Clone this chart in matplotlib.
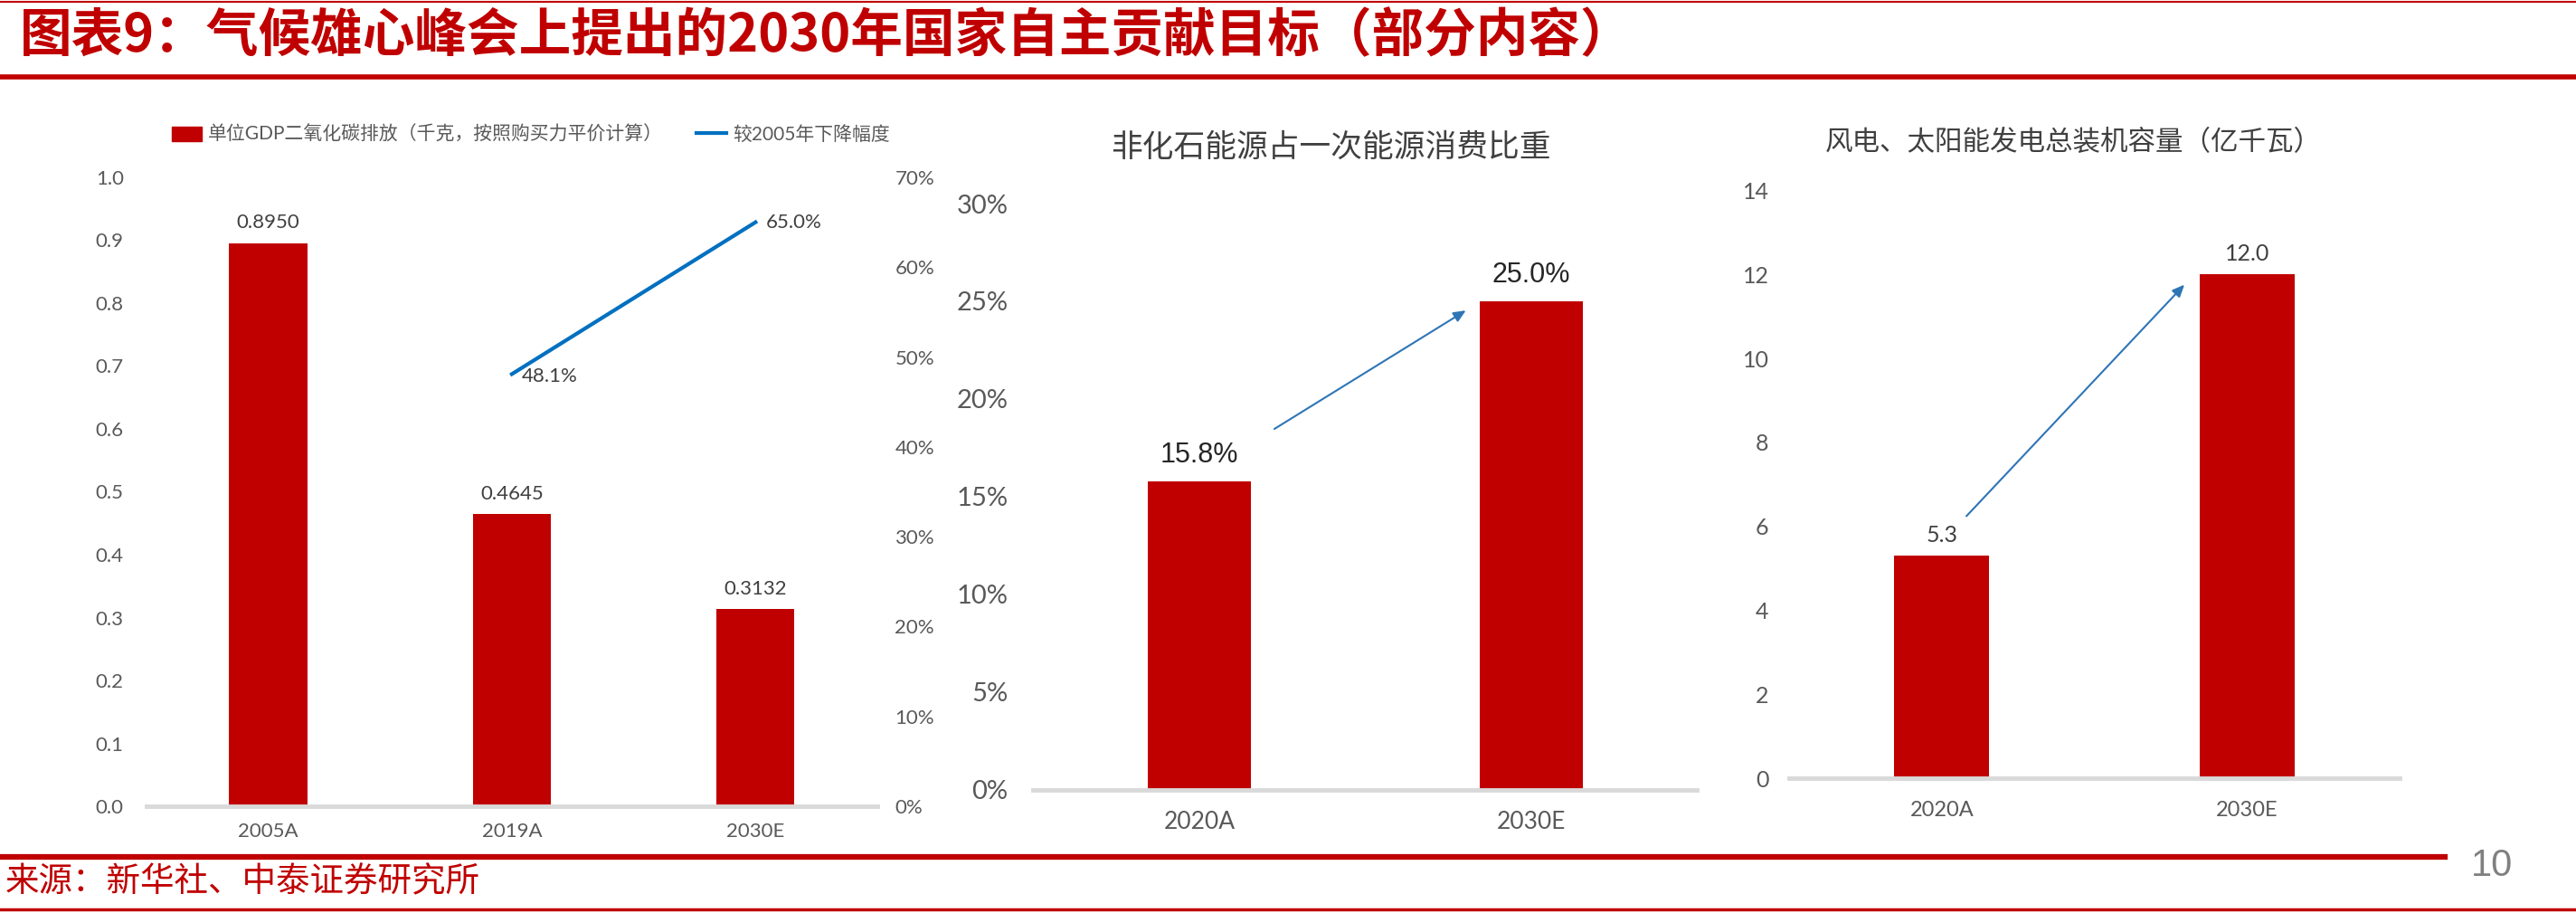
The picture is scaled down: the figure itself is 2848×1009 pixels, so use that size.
import matplotlib
matplotlib.use("Agg")
import matplotlib.pyplot as plt
import numpy as np
from matplotlib.lines import Line2D
from matplotlib.patches import Patch
from matplotlib.ticker import FuncFormatter

plt.rcParams['font.family'] = ['Lato', 'Noto Sans CJK SC', 'DejaVu Sans']

# ---------------- data ----------------
title = "图表9：气候雄心峰会上提出的2030年国家自主贡献目标（部分内容）"
source = "来源：新华社、中泰证券研究所"
page_no = "10"

c1_categories = ["2005A", "2019A", "2030E"]
c1_intensity = [0.8950, 0.4645, 0.3132]
c1_decline_cats = ["2019A", "2030E"]
c1_decline = [0.481, 0.650]
c1_bar_name = "单位GDP二氧化碳排放（千克，按照购买力平价计算）"
c1_line_name = "较2005年下降幅度"
c1_yticks = [0.0, 0.1, 0.2, 0.3, 0.4, 0.5, 0.6, 0.7, 0.8, 0.9, 1.0]
c1_y2ticks = [0.0, 0.1, 0.2, 0.3, 0.4, 0.5, 0.6, 0.7]

c2_title = "非化石能源占一次能源消费比重"
c2_categories = ["2020A", "2030E"]
c2_share = [0.158, 0.250]
c2_yticks = [0.0, 0.05, 0.10, 0.15, 0.20, 0.25, 0.30]

c3_title = "风电、太阳能发电总装机容量（亿千瓦）"
c3_categories = ["2020A", "2030E"]
c3_capacity = [5.3, 12.0]
c3_yticks = [0, 2, 4, 6, 8, 10, 12, 14]

# ---------------- style ----------------
RED = "#C00000"
BLUE = "#0070C0"
ARROW = "#2E75B6"
TICK = "#595959"
AXIS = "#D9D9D9"

fig = plt.figure(figsize=(28.48, 10.09), dpi=100)


def style_axes(ax, ylabelsize, xlabelsize, ypad, xpad):
    for s in ["top", "right", "left"]:
        ax.spines[s].set_visible(False)
    ax.spines["bottom"].set_color(AXIS)
    ax.spines["bottom"].set_linewidth(3.5)
    ax.tick_params(axis="both", length=0, colors=TICK)
    ax.tick_params(axis="y", labelsize=ylabelsize, pad=ypad)
    ax.tick_params(axis="x", labelsize=xlabelsize, pad=xpad)


# ---------------- chart 1 ----------------
ax1 = fig.add_axes([0.0568, 0.1169, 0.2838, 0.6889])
x1 = np.arange(len(c1_categories))
ax1.bar(x1, c1_intensity, width=0.32, color=RED, zorder=2)
ax1.set_xlim(-0.5, len(c1_categories) - 0.5)
ax1.set_ylim(0, 1.0)
ax1.set_yticks(c1_yticks)
ax1.yaxis.set_major_formatter(FuncFormatter(lambda v, p: f"{v:.1f}"))
ax1.set_xticks(x1)
ax1.set_xticklabels(c1_categories)
style_axes(ax1, 16, 16, 18, 13)
for xi, v in zip(x1, c1_intensity):
    ax1.annotate(f"{v:.4f}", (xi, v), xytext=(0, 9), textcoords="offset points",
                 ha="center", va="bottom", fontsize=16, color="#404040")

ax1b = ax1.twinx()
ax1b.set_ylim(0, 0.7)
ax1b.set_yticks(c1_y2ticks)
ax1b.yaxis.set_major_formatter(FuncFormatter(lambda v, p: f"{v*100:.0f}%"))
for s in ["top", "right", "left", "bottom"]:
    ax1b.spines[s].set_visible(False)
ax1b.tick_params(axis="y", length=0, colors=TICK, labelsize=16, pad=14)
xl = [c1_categories.index(c) for c in c1_decline_cats]
ax1b.plot(xl, c1_decline, color=BLUE, lw=3)
ax1b.annotate(f"{c1_decline[0]*100:.1f}%", (xl[0], c1_decline[0]), xytext=(8, -2),
              textcoords="offset points", ha="left", va="center", fontsize=16, color="#404040")
ax1b.annotate(f"{c1_decline[1]*100:.1f}%", (xl[1], c1_decline[1]), xytext=(8, 0),
              textcoords="offset points", ha="left", va="center", fontsize=16, color="#404040")

handles = [Patch(facecolor=RED, edgecolor=RED), Line2D([0], [0], color=BLUE, lw=3)]
fig.legend(handles, [c1_bar_name, c1_line_name], loc="center",
           bbox_to_anchor=(0.206, 0.8525), ncol=2, frameon=False, fontsize=15,
           handlelength=1.6, handleheight=0.8, handletextpad=0.3, columnspacing=1.8,
           labelcolor=TICK)

# ---------------- chart 2 ----------------
ax2 = fig.add_axes([0.4011, 0.1349, 0.2577, 0.6421])
x2 = np.arange(len(c2_categories))
ax2.bar(x2, c2_share, width=0.31, color=RED, zorder=2)
ax2.set_xlim(-0.5, len(c2_categories) - 0.5)
ax2.set_ylim(0, 0.30)
ax2.set_yticks(c2_yticks)
ax2.yaxis.set_major_formatter(FuncFormatter(lambda v, p: f"{v*100:.0f}%"))
ax2.set_xticks(x2)
ax2.set_xticklabels(c2_categories)
style_axes(ax2, 21, 19, 20, 17)
for xi, v in zip(x2, c2_share):
    ax2.annotate(f"{v*100:.1f}%", (xi, v), xytext=(0, 10), textcoords="offset points",
                 ha="center", va="bottom", fontsize=22, color="#262626",
                 family=["Liberation Sans", "DejaVu Sans"])
ax2.annotate("", xy=(x2[1] - 0.19, c2_share[1] - 0.004),
             xytext=(x2[0] + 0.22, c2_share[0] + 0.026),
             arrowprops=dict(arrowstyle="-|>,head_length=0.8,head_width=0.35",
                             color=ARROW, lw=1.5))
fig.text(0.5165, 0.838, c2_title, ha="center", va="center", fontsize=25,
         color="#404040", family=["Noto Sans CJK SC"])

# ---------------- chart 3 ----------------
ax3 = fig.add_axes([0.6945, 0.1475, 0.2372, 0.6439])
x3 = np.arange(len(c3_categories))
ax3.bar(x3, c3_capacity, width=0.31, color=RED, zorder=2)
ax3.set_xlim(-0.5, len(c3_categories) - 0.5)
ax3.set_ylim(0, 14)
ax3.set_yticks(c3_yticks)
ax3.set_xticks(x3)
ax3.set_xticklabels(c3_categories)
style_axes(ax3, 18, 17, 16, 18)
for xi, v in zip(x3, c3_capacity):
    ax3.annotate(f"{v:.1f}", (xi, v), xytext=(0, 8), textcoords="offset points",
                 ha="center", va="bottom", fontsize=18, color="#404040")
ax3.annotate("", xy=(x3[1] - 0.2, c3_capacity[1] - 0.2),
             xytext=(x3[0] + 0.075, c3_capacity[0] + 0.9),
             arrowprops=dict(arrowstyle="-|>,head_length=0.8,head_width=0.35",
                             color=ARROW, lw=1.5))
fig.text(0.805, 0.8435, c3_title, ha="center", va="center", fontsize=22,
         color="#404040", family=["Noto Sans CJK SC"])

# ---------------- page decorations ----------------
fig.add_artist(Line2D([0, 1], [0.998, 0.998], transform=fig.transFigure, color=RED, lw=1.5))
fig.text(0.0077, 0.960, title, ha="left", va="center", fontsize=41.5, color=RED,
         fontweight="bold", family=["Noto Sans CJK SC"])
fig.add_artist(Line2D([0, 1], [0.9155, 0.9155], transform=fig.transFigure, color=RED, lw=4))
fig.add_artist(Line2D([0, 0.949], [0.0612, 0.0612], transform=fig.transFigure, color=RED, lw=4.5))
fig.text(0.002, 0.034, source, ha="left", va="center", fontsize=27, color=RED,
         family=["Noto Sans CJK SC"])
fig.text(0.9675, 0.052, page_no, ha="center", va="center", fontsize=30, color="#808080",
         family=["Liberation Sans Narrow", "Liberation Sans"])
fig.add_artist(Line2D([0, 1], [0.0036, 0.0036], transform=fig.transFigure, color=RED, lw=2.5))

fig.savefig("out.png", dpi=100)
